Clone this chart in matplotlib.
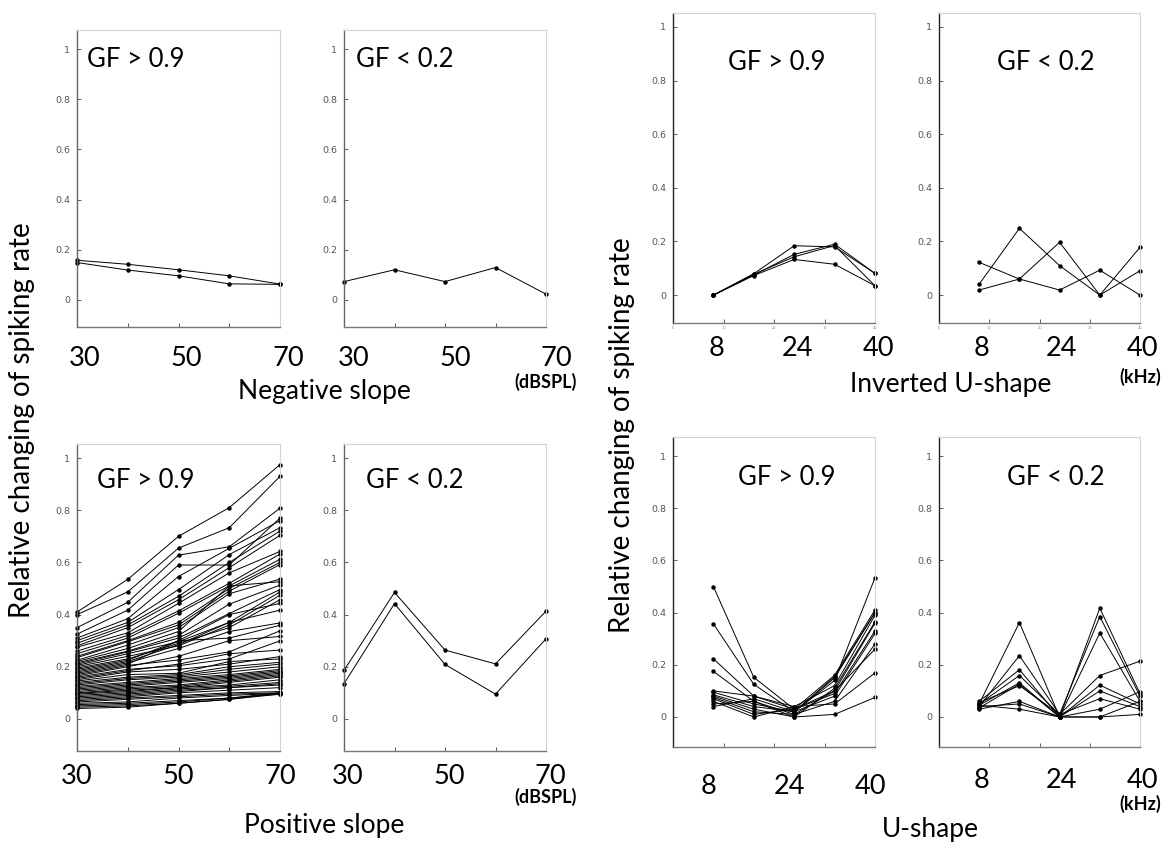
import matplotlib
matplotlib.use('Agg')
import matplotlib.pyplot as plt
import matplotlib.transforms as mtransforms

W, H = 1173, 850
BIG_FONT = 'Lato'

# x values
levels = [30, 40, 50, 60, 70]          # dBSPL
freqs = [8, 16, 24, 32, 40]            # kHz
level_labels = [30, 50, 70]
freq_labels = [8, 24, 40]
freq_ticks = [0, 10, 20, 30, 40]
y_ticks = [0, 0.2, 0.4, 0.6, 0.8, 1]
y_tick_labels = ['0', '0.2', '0.4', '0.6', '0.8', '1']

# Negative slope
neg_gf_high = [
    [0.158, 0.142, 0.120, 0.096, 0.063],
    [0.149, 0.119, 0.096, 0.064, 0.062],
]
neg_gf_low = [
    [0.073, 0.120, 0.073, 0.129, 0.023],
]

# Positive slope
pos_gf_high = [
    [0.410, 0.535, 0.700, 0.810, 0.975],
    [0.400, 0.487, 0.655, 0.733, 0.930],
    [0.350, 0.447, 0.628, 0.660, 0.808],
    [0.325, 0.417, 0.590, 0.590, 0.770],
    [0.310, 0.384, 0.546, 0.654, 0.760],
    [0.300, 0.370, 0.496, 0.630, 0.733],
    [0.290, 0.360, 0.470, 0.600, 0.720],
    [0.280, 0.350, 0.457, 0.580, 0.704],
    [0.275, 0.330, 0.443, 0.560, 0.642],
    [0.260, 0.320, 0.414, 0.520, 0.632],
    [0.250, 0.310, 0.405, 0.510, 0.612],
    [0.240, 0.300, 0.370, 0.500, 0.600],
    [0.235, 0.296, 0.360, 0.490, 0.592],
    [0.225, 0.283, 0.350, 0.480, 0.536],
    [0.220, 0.270, 0.335, 0.510, 0.526],
    [0.215, 0.260, 0.320, 0.440, 0.513],
    [0.210, 0.257, 0.310, 0.404, 0.496],
    [0.205, 0.250, 0.296, 0.370, 0.487],
    [0.200, 0.240, 0.280, 0.360, 0.474],
    [0.195, 0.230, 0.290, 0.350, 0.457],
    [0.190, 0.225, 0.300, 0.400, 0.443],
    [0.185, 0.220, 0.285, 0.370, 0.417],
    [0.180, 0.215, 0.270, 0.335, 0.368],
    [0.175, 0.210, 0.300, 0.310, 0.359],
    [0.170, 0.205, 0.226, 0.257, 0.338],
    [0.165, 0.200, 0.240, 0.300, 0.316],
    [0.160, 0.190, 0.204, 0.230, 0.299],
    [0.155, 0.185, 0.210, 0.250, 0.264],
    [0.150, 0.180, 0.190, 0.210, 0.239],
    [0.145, 0.170, 0.175, 0.220, 0.230],
    [0.140, 0.160, 0.170, 0.200, 0.217],
    [0.135, 0.155, 0.165, 0.190, 0.210],
    [0.130, 0.150, 0.160, 0.180, 0.200],
    [0.125, 0.140, 0.155, 0.170, 0.190],
    [0.120, 0.135, 0.150, 0.165, 0.185],
    [0.115, 0.130, 0.145, 0.160, 0.180],
    [0.110, 0.125, 0.140, 0.155, 0.175],
    [0.105, 0.120, 0.130, 0.150, 0.170],
    [0.100, 0.115, 0.125, 0.145, 0.165],
    [0.098, 0.110, 0.120, 0.140, 0.160],
    [0.095, 0.105, 0.120, 0.130, 0.150],
    [0.090, 0.100, 0.115, 0.125, 0.140],
    [0.085, 0.095, 0.110, 0.120, 0.135],
    [0.080, 0.090, 0.105, 0.120, 0.130],
    [0.075, 0.085, 0.100, 0.110, 0.120],
    [0.070, 0.080, 0.090, 0.100, 0.105],
    [0.065, 0.075, 0.085, 0.095, 0.100],
    [0.060, 0.065, 0.080, 0.090, 0.098],
    [0.055, 0.060, 0.070, 0.080, 0.095],
    [0.050, 0.055, 0.065, 0.080, 0.100],
    [0.045, 0.050, 0.060, 0.075, 0.095],
    [0.040, 0.045, 0.060, 0.075, 0.100],
]
pos_gf_low = [
    [0.186, 0.485, 0.264, 0.211, 0.413],
    [0.135, 0.442, 0.209, 0.095, 0.307],
]

# Inverted U-shape
inv_gf_high = [
    [0.0, 0.080, 0.184, 0.180, 0.081],
    [0.0, 0.075, 0.152, 0.190, 0.081],
    [0.0, 0.078, 0.143, 0.185, 0.035],
    [0.0, 0.073, 0.133, 0.115, 0.035],
]
inv_gf_low = [
    [0.122, 0.060, 0.019, 0.093, 0.000],
    [0.041, 0.249, 0.110, 0.000, 0.091],
    [0.019, 0.060, 0.197, 0.000, 0.178],
]

# U-shape
u_gf_high = [
    [0.500, 0.152, 0.030, 0.160, 0.410],
    [0.357, 0.125, 0.020, 0.150, 0.400],
    [0.223, 0.080, 0.040, 0.120, 0.390],
    [0.175, 0.060, 0.010, 0.100, 0.360],
    [0.100, 0.080, 0.030, 0.090, 0.330],
    [0.095, 0.050, 0.020, 0.080, 0.320],
    [0.085, 0.040, 0.020, 0.140, 0.534],
    [0.080, 0.030, 0.000, 0.110, 0.365],
    [0.075, 0.020, 0.010, 0.060, 0.280],
    [0.070, 0.010, 0.030, 0.100, 0.260],
    [0.060, 0.000, 0.040, 0.050, 0.169],
    [0.050, 0.060, 0.000, 0.010, 0.075],
    [0.040, 0.070, 0.020, 0.155, 0.400],
]
u_gf_low = [
    [0.050, 0.362, 0.000, 0.417, 0.090],
    [0.040, 0.235, 0.010, 0.385, 0.080],
    [0.060, 0.181, 0.000, 0.322, 0.060],
    [0.050, 0.159, 0.010, 0.159, 0.214],
    [0.045, 0.131, 0.000, 0.122, 0.050],
    [0.035, 0.126, 0.000, 0.100, 0.040],
    [0.055, 0.120, 0.010, 0.070, 0.030],
    [0.030, 0.060, 0.000, 0.030, 0.097],
    [0.040, 0.050, 0.000, 0.000, 0.060],
    [0.045, 0.030, 0.000, 0.000, 0.010],
]

fig = plt.figure(figsize=(W / 100, H / 100), dpi=100)


def px_offset(dx, dy):
    # pixel offset (right, down) -> display transform
    return mtransforms.ScaledTranslation(dx / 100, -dy / 100, fig.dpi_scale_trans)


def add_panel(box, ylim, x, curves, xlim, xticks, gf_text, gf_pos, dark_left=False):
    l, t, r, b = box
    ax = fig.add_axes([l / W, 1 - b / H, (r - l) / W, (b - t) / H])
    for c in curves:
        ax.plot(x, c, color='black', lw=0.7, marker='o', ms=3.2,
                markeredgewidth=0, clip_on=False)
    ax.set_xlim(xlim)
    ax.set_ylim(ylim)
    ax.set_yticks(y_ticks)
    ax.set_yticklabels(y_tick_labels, fontsize=6.8, color='#555555',
                       family='DejaVu Sans')
    ax.set_xticks(xticks)
    ax.tick_params(direction='in', length=3, width=0.6, color='#444444')
    ax.tick_params(axis='y', pad=5)
    for s in ['top', 'right']:
        ax.spines[s].set_color('#d4d4d4')
        ax.spines[s].set_linewidth(0.8)
    ax.spines['left'].set_color('#222222' if dark_left else '#666666')
    ax.spines['bottom'].set_color('#777777')
    for s in ['left', 'bottom']:
        ax.spines[s].set_linewidth(1.0)
    ax.text(gf_pos[0], gf_pos[1], gf_text, transform=ax.transAxes,
            fontsize=18.5, family=BIG_FONT, ha='left', va='center')
    return ax


def big_labels(ax, values, dy, dx=0, unit=None, unit_dy=0):
    tr = ax.get_xaxis_transform() + px_offset(dx, dy)
    for v in values:
        ax.text(v, 0, str(v), transform=tr, fontsize=19.5, family=BIG_FONT,
                ha='center', va='center')
    if unit is not None:
        tr_u = ax.get_xaxis_transform() + px_offset(0, unit_dy)
        ax.text(values[-1], 0, unit, transform=tr_u, fontsize=13,
                family=BIG_FONT, weight='bold', ha='center', va='center')


ylim_top_left = (-0.108, 1.076)
ylim_bot_left = (-0.123, 1.054)
ylim_top_right = (-0.104, 1.052)
ylim_bot_right = (-0.115, 1.073)

# ---- left half: sound level ----
ax = add_panel((77, 30, 280, 327), ylim_top_left, levels, neg_gf_high,
               (30, 70), levels, 'GF > 0.9', (0.05, 0.9))
ax.set_xticklabels([])
big_labels(ax, level_labels, 31, dx=8)

ax = add_panel((344, 30, 546, 327), ylim_top_left, levels, neg_gf_low,
               (30, 70), levels, 'GF < 0.2', (0.06, 0.9))
ax.set_xticklabels([])
big_labels(ax, level_labels, 31, dx=10, unit='(dBSPL)', unit_dy=55)

ax = add_panel((77, 444, 280, 751), ylim_bot_left, levels, pos_gf_high,
               (30, 70), levels, 'GF > 0.9', (0.1, 0.88))
ax.set_xticklabels([])
big_labels(ax, level_labels, 25)

ax = add_panel((344, 444, 546, 751), ylim_bot_left, levels, pos_gf_low,
               (30, 70), levels, 'GF < 0.2', (0.11, 0.88))
ax.set_xticklabels([])
big_labels(ax, level_labels, 25, dx=4, unit='(dBSPL)', unit_dy=46)


# ---- right half: frequency ----
def tiny_freq_labels(ax):
    ax.set_xticklabels([str(v) for v in freq_ticks], fontsize=2.5,
                       color='#888888')
    ax.tick_params(axis='x', pad=2)


ax = add_panel((673, 13, 875, 323), ylim_top_right, freqs, inv_gf_high,
               (0, 40), freq_ticks, 'GF > 0.9', (0.27, 0.84), dark_left=True)
tiny_freq_labels(ax)
big_labels(ax, freq_labels, 26, dx=3)

ax = add_panel((939, 13, 1140, 323), ylim_top_right, freqs, inv_gf_low,
               (0, 40), freq_ticks, 'GF < 0.2', (0.29, 0.84), dark_left=True)
tiny_freq_labels(ax)
big_labels(ax, freq_labels, 26, dx=2, unit='(kHz)', unit_dy=54)

ax = add_panel((673, 437, 875, 747), ylim_bot_right, freqs, u_gf_high,
               (0, 40), freq_ticks, 'GF > 0.9', (0.32, 0.87), dark_left=True)
ax.set_xticklabels([])
big_labels(ax, freq_labels, 39, dx=-5)

ax = add_panel((939, 437, 1140, 747), ylim_bot_right, freqs, u_gf_low,
               (0, 40), freq_ticks, 'GF < 0.2', (0.34, 0.87), dark_left=True)
ax.set_xticklabels([])
big_labels(ax, freq_labels, 34, dx=2, unit='(kHz)', unit_dy=57)

# ---- group titles and y labels ----
fig.text(324 / W, 1 - 392 / H, 'Negative slope', fontsize=19,
         family=BIG_FONT, ha='center', va='center')
fig.text(324 / W, 1 - 826 / H, 'Positive slope', fontsize=19,
         family=BIG_FONT, ha='center', va='center')
fig.text(951 / W, 1 - 385 / H, 'Inverted U-shape', fontsize=19,
         family=BIG_FONT, ha='center', va='center')
fig.text(930 / W, 1 - 830 / H, 'U-shape', fontsize=19,
         family=BIG_FONT, ha='center', va='center')

ylab = 'Relative changing of spiking rate'
fig.text(22 / W, 1 - 420 / H, ylab, rotation=90, fontsize=20,
         family=BIG_FONT, ha='center', va='center')
fig.text(622 / W, 1 - 435 / H, ylab, rotation=90, fontsize=20,
         family=BIG_FONT, ha='center', va='center')

fig.savefig('out.png', dpi=100)
